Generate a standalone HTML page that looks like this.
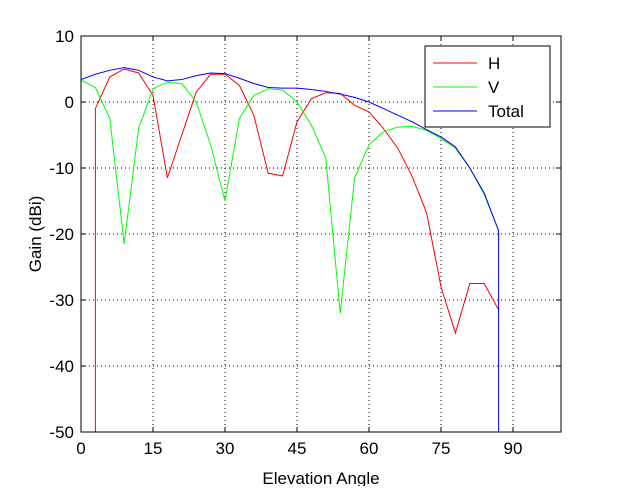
<!DOCTYPE html>
<html><head><meta charset="utf-8"><style>
body{margin:0;background:#fff;}
svg text{font-family:"Liberation Sans",Arial,sans-serif;font-size:17px;fill:#000;}
</style></head><body>
<svg id="chart" width="620" height="486" viewBox="0 0 620 486" xmlns="http://www.w3.org/2000/svg">
<rect width="620" height="486" fill="#fff"/>
<g id="grid"></g>
<g id="series"></g>
<rect x="81" y="36" width="480" height="396" fill="none" stroke="#000" stroke-width="1"/>
<g id="ticks"></g>
<text transform="translate(41,234) rotate(-90)" text-anchor="middle">Gain (dBi)</text>
<text x="321" y="484" text-anchor="middle">Elevation Angle</text>
<g>
<rect x="425" y="46" width="125" height="81" fill="#fff" stroke="#000"/>
<line x1="433" y1="63" x2="477" y2="63" stroke="#f00"/>
<text x="488" y="69">H</text>
<line x1="433" y1="87" x2="477" y2="87" stroke="#0f0"/>
<text x="488" y="93">V</text>
<line x1="433" y1="111" x2="477" y2="111" stroke="#00f"/>
<text x="488" y="117">Total</text>
</g>
</svg>
<script>
const angles=[0,3,6,9,12,15,18,21,24,27,30,33,36,39,42,45,48,51,54,57,60,63,66,69,72,75,78,81,84,87];
const hGain=[null,-1,3.8,5,4.4,1,-11.5,-5,1.5,4.2,4.2,2.5,-2,-10.8,-11.2,-3,0.5,1.4,1.3,-0.5,-1.5,-4,-7,-11.3,-16.8,-28,-35,-27.5,-27.5,-31.5];
const vGain=[3.3,2.2,-2.5,-21.5,-4,2,3,2.8,0,-6.5,-15,-2.5,1,2,1.8,0,-3.5,-8.5,-32,-11.5,-6.5,-4.5,-3.8,-3.7,-4.3,-5.5,-7,-10,-14,-19.5];
const totalGain=[3.4,4.2,4.8,5.2,4.8,3.8,3.2,3.4,4,4.4,4.3,3.6,2.8,2.2,2.1,2.1,1.9,1.6,1.2,0.7,0,-1,-2,-3,-4.2,-5.3,-6.8,-10,-13.8,-19.5];
const xTicks=[0,15,30,45,60,75,90];
const yTicks=[10,0,-10,-20,-30,-40,-50];
const NS="http://www.w3.org/2000/svg";
const X=a=>81+(a-0)*480/100;
const Y=v=>36+(10-v)*396/60;
const grid=document.getElementById('grid'),ticks=document.getElementById('ticks'),series=document.getElementById('series');
function mk(t,p,attrs){const e=document.createElementNS(NS,t);for(const k in attrs)e.setAttribute(k,attrs[k]);p.appendChild(e);return e;}
xTicks.forEach(t=>{
 const x=X(t);
 if(t>0){const g=mk('line',grid,{x1:x,y1:36,x2:x,y2:432,stroke:'#000','stroke-dasharray':'1,3'});
 
 }
 mk('line',ticks,{x1:x,y1:432,x2:x,y2:427,stroke:'#000'});
 mk('line',ticks,{x1:x,y1:36,x2:x,y2:41,stroke:'#000'});
 const l=mk('text',ticks,{x:x,y:454,'text-anchor':'middle'});l.textContent=t;
 
 
});
yTicks.forEach(t=>{
 const y=Y(t);
 if(t<10&&t>-50){const g=mk('line',grid,{x1:81,y1:y,x2:561,y2:y,stroke:'#000','stroke-dasharray':'1,3'});
 
 }
 mk('line',ticks,{x1:81,y1:y,x2:86,y2:y,stroke:'#000'});
 mk('line',ticks,{x1:561,y1:y,x2:556,y2:y,stroke:'#000'});
 const l=mk('text',ticks,{x:74,y:y+6,'text-anchor':'end'});l.textContent=t;
 
 
});
function line(vals,color,name,pre,post){
 let pts=[];
 if(pre)pts.push(pre);
 vals.forEach((v,i)=>{if(v!==null)pts.push([X(angles[i]),Y(v)]);});
 if(post)pts.push(post);
 const p=mk('polyline',series,{points:pts.map(q=>q.join(',')).join(' '),fill:'none',stroke:color,'stroke-width':1});
 
 
}
const firstH=hGain.findIndex(v=>v!==null);
line(hGain,'#f00','series-h',[X(angles[firstH]),Y(-50)]);
line(vGain,'#0f0','series-v');
line(totalGain,'#00f','series-total',null,[X(angles[angles.length-1]),Y(-50)]);
</script>
</body></html>
